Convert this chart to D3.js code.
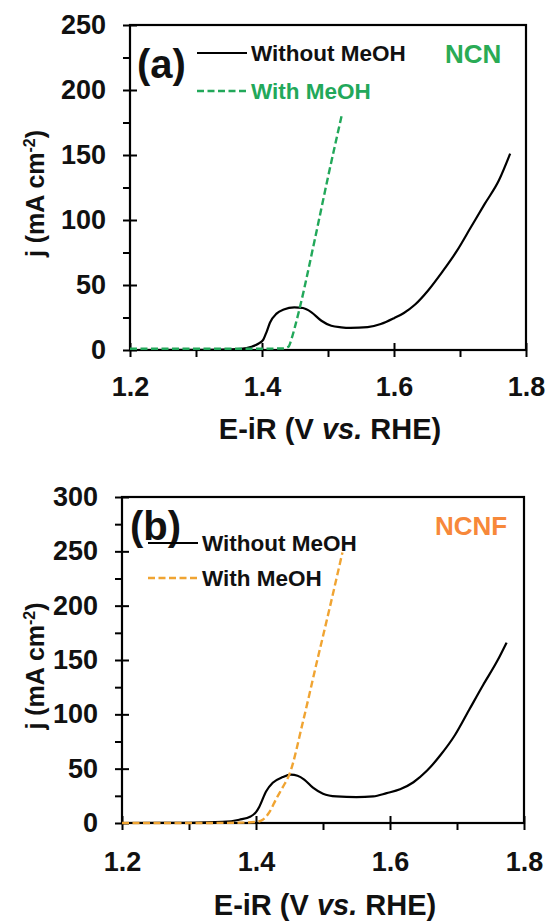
<!DOCTYPE html>
<html>
<head>
<meta charset="utf-8">
<script src="https://cdn.jsdelivr.net/npm/d3@7"></script>
<style>
  body { margin: 0; background: #fff; }
  svg { display: block; font-family: "Liberation Sans", Arial, sans-serif; font-weight: bold; }
</style>
</head>
<body>
<svg id="chart" width="551" height="923"></svg>
<script>
// (a) NCN - [E-iR (V), j (mA cm-2)]
const ncnWithout = [[1.2,0],[1.30,0.1],[1.35,0.5],[1.368,0.9],[1.384,2.5],[1.395,5],[1.402,8],[1.407,14],[1.412,21],[1.422,28],[1.433,31.2],[1.449,32.8],[1.462,32.3],[1.475,29],[1.49,22.5],[1.505,18.6],[1.52,17.4],[1.534,17],[1.56,17.6],[1.58,20],[1.6,24.5],[1.615,28.5],[1.632,35],[1.652,46],[1.673,60],[1.695,76],[1.716,94],[1.737,112],[1.759,130.5],[1.776,151]];
const ncnWith = [[1.2,1],[1.3,1],[1.40,1],[1.432,1.2],[1.44,2.5],[1.445,9],[1.45,18],[1.457,32],[1.48,85],[1.50,133],[1.521,181]];
// (b) NCNF
const ncnfWithout = [[1.2,0],[1.30,0.2],[1.35,1],[1.375,3],[1.392,6],[1.40,10],[1.405,15],[1.415,29],[1.425,37],[1.44,42.3],[1.452,44.5],[1.462,43.5],[1.472,40],[1.485,32.5],[1.50,27],[1.52,24.5],[1.55,23.8],[1.575,24.5],[1.595,27.5],[1.615,31],[1.635,37.5],[1.655,48],[1.676,63],[1.697,81],[1.718,104],[1.739,127],[1.76,149],[1.774,166]];
const ncnfWith = [[1.2,0],[1.3,0],[1.38,0.3],[1.40,1],[1.41,3],[1.42,10],[1.43,22],[1.44,33],[1.45,45],[1.47,93],[1.49,146],[1.51,198],[1.529,249]];

const xTicks = [1.2, 1.4, 1.6, 1.8];
const xMinor = [1.3, 1.5, 1.7];
const yTicksA = [0, 50, 100, 150, 200, 250];
const yTicksB = [0, 50, 100, 150, 200, 250, 300];
const seriesNames = ["Without MeOH", "With MeOH"];

const svg = d3.select("#chart");

function panel(o) {
  const g = svg.append("g");
  const x = d3.scaleLinear().domain([1.2, 1.8]).range([o.left, o.right]);
  const y = d3.scaleLinear().domain([0, o.ymax]).range([o.bottom, o.top]);

  // x axis, labelled ticks cross the axis
  const xa = g.append("g").attr("transform", `translate(0,${o.bottom})`)
    .call(d3.axisBottom(x).tickValues(xTicks).tickFormat(d3.format(".1f")).tickSize(7).tickPadding(o.xpad));
  xa.selectAll(".tick line").attr("y1", -7).attr("stroke-width", 2);
  g.append("g").attr("transform", `translate(0,${o.bottom})`)
    .call(d3.axisBottom(x).tickValues(xMinor).tickFormat("").tickSize(7))
    .selectAll(".tick line").attr("stroke-width", 2);

  // y axis
  const ya = g.append("g").attr("transform", `translate(${o.left},0)`)
    .call(d3.axisLeft(y).tickValues(o.yTicks).tickSize(7).tickPadding(17));
  ya.selectAll(".tick line").attr("x1", 7).attr("stroke-width", 2);
  g.append("g").attr("transform", `translate(${o.left},0)`)
    .call(d3.axisLeft(y).tickValues(o.yTicks.slice(1).map(v => v - 25)).tickFormat("").tickSize(7))
    .selectAll(".tick line").attr("stroke-width", 2);

  g.selectAll(".domain").remove();
  g.selectAll(".tick text").attr("font-size", 27).attr("font-weight", "bold")
    .attr("font-family", "Liberation Sans, Arial, sans-serif").attr("fill", "#111");

  // frame
  g.append("rect").attr("x", o.left).attr("y", o.top)
    .attr("width", o.right - o.left).attr("height", o.bottom - o.top)
    .attr("fill", "none").attr("stroke", "#000").attr("stroke-width", 2.2);

  const line = d3.line().x(d => x(d[0])).y(d => y(d[1])).curve(d3.curveMonotoneX);
  g.append("path").datum(o.without).attr("d", line)
    .attr("fill", "none").attr("stroke", "#000").attr("stroke-width", 2.2);
  g.append("path").datum(o.with).attr("d", line)
    .attr("fill", "none").attr("stroke", o.color).attr("stroke-width", 2.4)
    .attr("stroke-dasharray", "7,3.5");

  // axis titles
  g.append("text").attr("x", (o.left + o.right) / 2 + 2).attr("y", o.titleY)
    .attr("text-anchor", "middle").attr("font-size", 29).attr("fill", "#111")
    .call(t => {
      t.append("tspan").text("E-iR (V ");
      t.append("tspan").attr("font-style", "italic").text("vs.");
      t.append("tspan").text(" RHE)");
    });
  g.append("text").attr("transform", `translate(44,${(o.top + o.bottom) / 2 + 6}) rotate(-90)`)
    .attr("text-anchor", "middle").attr("font-size", 25).attr("fill", "#111")
    .call(t => {
      t.append("tspan").text("j (mA cm");
      t.append("tspan").attr("dy", -9).attr("font-size", 16).text("-2");
      t.append("tspan").attr("dy", 9).text(")");
    });

  // panel letter and legend
  g.append("text").attr("x", o.letter[0]).attr("y", o.letter[1])
    .attr("font-size", 40).attr("fill", "#111").text(o.letterText);
  const L = o.legend;
  g.append("line").attr("x1", L.x).attr("x2", L.x + 50).attr("y1", L.y1).attr("y2", L.y1)
    .attr("stroke", "#000").attr("stroke-width", 2.2);
  g.append("line").attr("x1", L.x).attr("x2", L.x + 50).attr("y1", L.y2).attr("y2", L.y2)
    .attr("stroke", o.color).attr("stroke-width", 2.4).attr("stroke-dasharray", "7,3.5");
  g.append("text").attr("x", L.x + 54).attr("y", L.y1 + 8).attr("font-size", 22.5)
    .attr("fill", "#111").text(seriesNames[0]);
  g.append("text").attr("x", L.x + 54).attr("y", L.y2 + 8).attr("font-size", 22.5)
    .attr("fill", o.legendTextColor).text(seriesNames[1]);
  g.append("text").attr("x", o.name[0]).attr("y", o.name[1]).attr("font-size", 26)
    .attr("fill", o.nameColor).text(o.nameText);
}

panel({
  left: 130, right: 526, top: 25, bottom: 350, ymax: 250, yTicks: yTicksA,
  xpad: 20, titleY: 439, without: ncnWithout, with: ncnWith, color: "#22a85a",
  letter: [137, 78], letterText: "(a)",
  legend: { x: 197, y1: 53, y2: 91 }, legendTextColor: "#22a85a",
  name: [445, 63], nameText: "NCN", nameColor: "#2aab55"
});

panel({
  left: 122, right: 524, top: 497, bottom: 823, ymax: 300, yTicks: yTicksB,
  xpad: 22, titleY: 915, without: ncnfWithout, with: ncnfWith, color: "#f0a432",
  letter: [130, 540], letterText: "(b)",
  legend: { x: 148, y1: 543, y2: 578 }, legendTextColor: "#111",
  name: [435, 535], nameText: "NCNF", nameColor: "#f7883a"
});
</script>
</body>
</html>
